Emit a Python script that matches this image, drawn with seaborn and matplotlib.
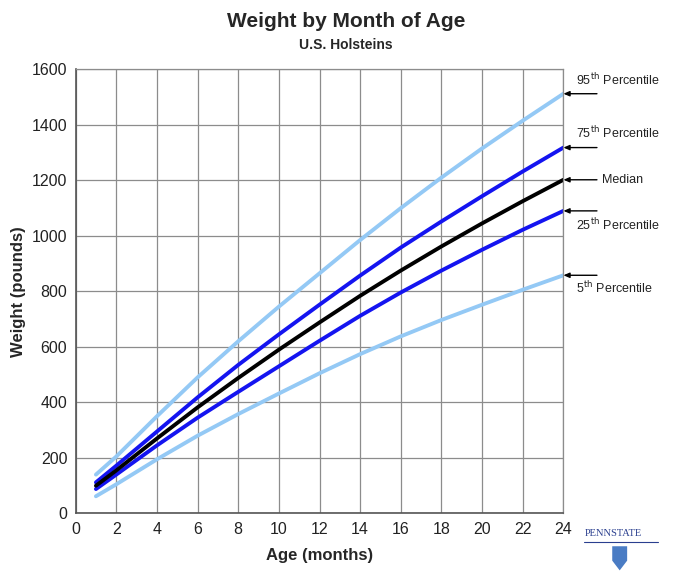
import matplotlib
matplotlib.use("Agg")
import matplotlib.pyplot as plt
import seaborn as sns
import pandas as pd
from matplotlib.patches import Polygon

months = [1, 2, 4, 6, 8, 10, 12, 14, 16, 18, 20, 22, 24]
p95 = [140, 205, 350, 490, 620, 745, 865, 985, 1100, 1210, 1315, 1415, 1512]
p75 = [112, 172, 295, 418, 535, 645, 752, 857, 958, 1052, 1143, 1232, 1318]
p50 = [100, 155, 270, 382, 488, 590, 688, 784, 875, 962, 1045, 1125, 1202]
p25 = [88, 140, 245, 345, 438, 530, 622, 712, 796, 875, 950, 1022, 1090]
p05 = [62, 105, 195, 280, 358, 432, 505, 574, 638, 697, 752, 806, 858]

series = ["5th", "95th", "25th", "75th", "Median"]
values = {"5th": p05, "95th": p95, "25th": p25, "75th": p75, "Median": p50}
labels = {"95th": r"95$^{\rm th}$ Percentile", "75th": r"75$^{\rm th}$ Percentile",
          "Median": "Median", "25th": r"25$^{\rm th}$ Percentile",
          "5th": r"5$^{\rm th}$ Percentile"}
colors = {"5th": "#94c9f5", "95th": "#94c9f5", "25th": "#1414f0", "75th": "#1414f0",
          "Median": "#000000"}

rows = []
for s in series:
    for m, v in zip(months, values[s]):
        rows.append({"Age": m, "Weight": v, "Series": s})
df = pd.DataFrame(rows)

sns.set_style("white")
plt.rcParams['font.family'] = ['Liberation Sans', 'DejaVu Sans']

fig = plt.figure(figsize=(6.78, 5.75), dpi=100)
ax = fig.add_axes([0.1115, 0.107, 0.7195, 0.7725])

sns.lineplot(data=df, x="Age", y="Weight", hue="Series", hue_order=series,
             palette=colors, linewidth=2.8, legend=False, ax=ax)

ax.set_xlim(0, 24)
ax.set_ylim(0, 1600)
ax.set_xticks(range(0, 25, 2))
ax.set_yticks(range(0, 1601, 200))
ax.set_xticks(range(1, 25, 2), minor=True)
ax.set_yticks(range(50, 1600, 50), minor=True)
ax.grid(True, which="major", color="#8c8c8c", linewidth=0.9)
ax.set_axisbelow(True)
ax.tick_params(axis="both", which="major", labelsize=11.5, length=4,
               direction="inout", color="#555555", pad=4, labelcolor="#222222")
ax.tick_params(axis="both", which="minor", length=5, direction="inout",
               color="#777777", width=0.8)
for side in ["left", "bottom"]:
    ax.spines[side].set_color("#555555")
    ax.spines[side].set_linewidth(1.2)
for side in ["top", "right"]:
    ax.spines[side].set_color("#8c8c8c")
    ax.spines[side].set_linewidth(0.9)

ax.set_xlabel("Age (months)", fontsize=12, fontweight="bold", labelpad=8)
ax.set_ylabel("Weight (pounds)", fontsize=12, fontweight="bold", labelpad=4)

fig.text(0.51, 0.963, "Weight by Month of Age", ha="center", va="center",
         fontsize=15, fontweight="bold")
fig.text(0.51, 0.922, "U.S. Holsteins", ha="center", va="center",
         fontsize=10, fontweight="bold")

# end annotations
text_pos = {"95th": (24.6, 1561), "75th": (24.6, 1370), "Median": (25.9, 1201),
            "25th": (24.6, 1039), "5th": (24.6, 812)}
for s in series:
    yv = values[s][-1]
    ax.annotate("", xy=(24, yv), xytext=(25.65, yv), xycoords="data",
                textcoords="data", annotation_clip=False,
                arrowprops=dict(arrowstyle="-|>,head_length=0.35,head_width=0.15",
                                color="black", lw=1.0, shrinkA=0, shrinkB=0))
    tx, ty = text_pos[s]
    ax.text(tx, ty, labels[s], fontsize=9, ha="left", va="center",
            color="#222222", clip_on=False)

# Penn State mark
fig.text(0.862, 0.072, "PENNSTATE", fontsize=7.5, family="Liberation Serif",
         color="#2a3f8f", ha="left", va="center")
fig.add_artist(plt.Line2D([0.862, 0.97], [0.058, 0.058], color="#2a3f8f",
                          lw=0.8, transform=fig.transFigure))
shield = Polygon([[0.903, 0.050], [0.925, 0.050], [0.925, 0.025],
                  [0.914, 0.008], [0.903, 0.025]], closed=True,
                 transform=fig.transFigure, facecolor="#4a7cc4", edgecolor="none")
fig.add_artist(shield)

fig.savefig("out.png", dpi=100)
